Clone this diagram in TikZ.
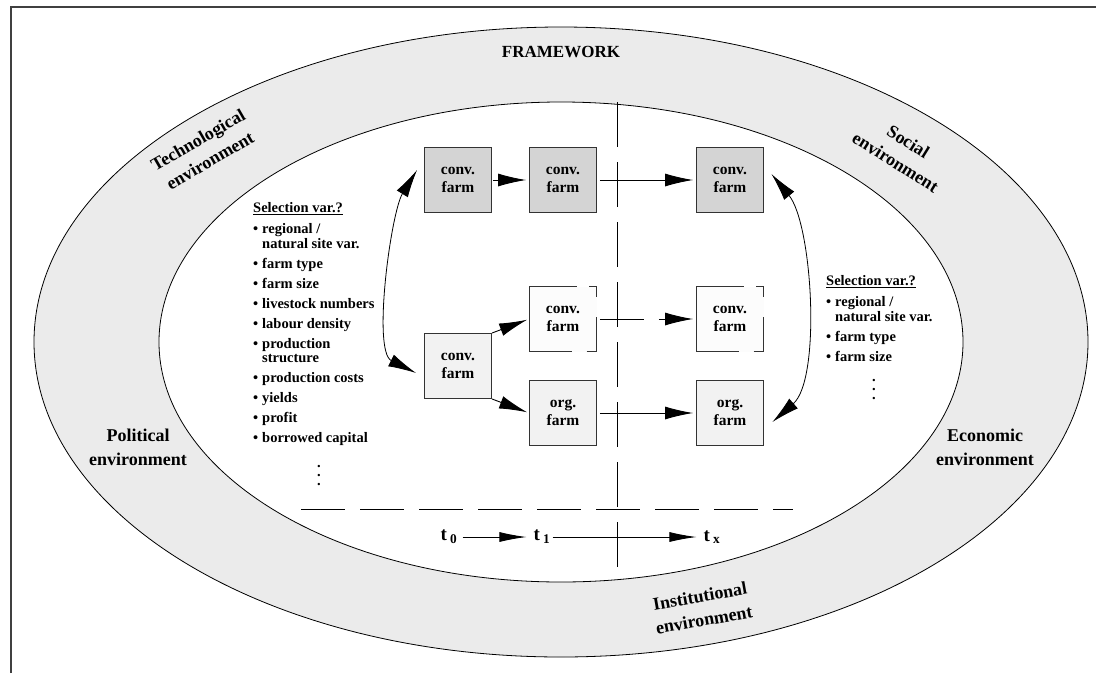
\documentclass[tikz,border=0pt]{standalone}
\usepackage{fontspec}
\setmainfont{Liberation Serif}
\usetikzlibrary{arrows.meta}

\newcommand{\varbullet}{\makebox[9pt][l]{\textbullet}}
\newcommand{\varindent}{\hspace*{9pt}}

\begin{document}
\begin{tikzpicture}[x=1pt,y=-1pt,>={Latex[length=28pt,width=13pt]},
  farmbox/.style={draw=black!80,line width=0.9pt,minimum width=67pt,minimum height=65pt,
    inner sep=0pt,align=center,font=\fontsize{15.5}{18}\selectfont\bfseries},
  convbox/.style={farmbox,fill=black!17},
  newbox/.style={farmbox,fill=black!5},
  dashbox/.style={farmbox,fill=black!1,
    dash pattern=on 42pt off 15pt on 45pt off 20pt on 18pt off 12pt on 113pt off 10pt},
  envlabel/.style={align=center,font=\fontsize{18}{24}\selectfont\bfseries},
  varlist/.style={align=left,inner sep=0pt,font=\fontsize{14.5}{14.5}\selectfont\bfseries},
  vardots/.style={align=center,inner sep=0pt,font=\fontsize{14.5}{9}\selectfont\bfseries},
  timelabel/.style={inner sep=1pt,font=\fontsize{19}{22}\selectfont\bfseries},
  timearrow/.style={-{Latex[length=27pt,width=10pt]},line width=0.9pt},
  longdash/.style={line width=0.9pt,dash pattern=on 44pt off 15pt}]

\useasboundingbox (0,0) rectangle (1096,673);

% frame
\draw[line width=1.2pt,black!75] (11,673) -- (11,7) -- (1096,7);

% environment rings
\filldraw[fill=black!8,line width=0.8pt] (561,342) ellipse [x radius=527pt,y radius=315pt];
\filldraw[fill=white,line width=0.8pt] (561,342) ellipse [x radius=402pt,y radius=240pt];

\node[envlabel,font=\fontsize{17}{20}\selectfont\bfseries] (framework) at (561,52) {FRAMEWORK};
\node[envlabel,rotate=30] (techenv) at (204,150) {Technological\\environment};
\node[envlabel,rotate=-32] (socenv) at (902,152) {Social\\environment};
\node[envlabel] (polenv) at (138,447) {Political\\environment};
\node[envlabel] (ecoenv) at (985,447) {Economic\\environment};
\node[envlabel,rotate=10] (instenv) at (702,608) {Institutional\\environment};

% time axes
\coordinate (vtop) at (617,102);
\coordinate (vbot) at (617,567);
\draw[longdash,dash pattern=on 45pt off 15pt] (vtop) -- (vbot);
\coordinate (hleft) at (301,509);
\coordinate (hright) at (793,509);
\draw[longdash] (hleft) -- (hright);

% farms
\node[convbox] (conva) at (458,180) {conv.\\farm};
\node[convbox] (convb) at (563,180) {conv.\\farm};
\node[convbox] (convc) at (730,180) {conv.\\farm};
\node[newbox] (convm) at (458,366) {conv.\\farm};
\node[dashbox] (dasha) at (563,319) {conv.\\farm};
\node[dashbox] (dashb) at (730,319) {conv.\\farm};
\node[newbox] (orga) at (563,413) {org.\\farm};
\node[newbox] (orgb) at (730,413) {org.\\farm};

\draw[->,line width=0.9pt,shorten <=1pt,shorten >=3pt] (conva) -- (convb);
\draw[->,line width=0.9pt,shorten <=3pt,shorten >=3pt] (convb) -- (convc);
\draw[->,longdash,shorten <=3pt,shorten >=3pt] (dasha) -- (dashb);
\draw[->,line width=0.9pt,shorten <=3pt,shorten >=3pt] (orga) -- (orgb);
\draw[->,line width=0.9pt,shorten >=2pt] (convm.north east) -- (dasha.west);
\draw[->,line width=0.9pt,shorten >=2pt] (convm.south east) -- (orga.west);

\draw[<->,line width=0.8pt] ([shift={(-7,-10)}]conva.west)
  .. controls +(-26,42) and +(-44,-22) .. ([shift={(-8,7)}]convm.west);
\draw[<->,line width=0.8pt] ([shift={(7.5,-6)}]convc.east)
  .. controls +(41,50) and +(49,-43) .. ([shift={(8.5,9)}]orgb.east);

% time steps
\node[timelabel] (tzero) at (449,537) {t\,\textsubscript{0}};
\node[timelabel] (tone) at (542,537) {t\,\textsubscript{1}};
\node[timelabel] (tx) at (712,537) {t\,\textsubscript{x}};
\draw[timearrow,shorten <=4pt,shorten >=6pt] (tzero) -- (tone);
\draw[timearrow,shorten <=1pt,shorten >=6pt] (tone) -- (tx);

% selection variables
\node[varlist,anchor=north west] (leftvars) at (253,202) {\underline{Selection var.?}\\[7pt]
\varbullet regional /\\
\varindent natural site var.\\[5.5pt]
\varbullet farm type\\[5.5pt]
\varbullet farm size\\[5.5pt]
\varbullet livestock numbers\\[5.5pt]
\varbullet labour density\\[5.5pt]
\varbullet production\\
\varindent structure\\[5.5pt]
\varbullet production costs\\[5.5pt]
\varbullet yields\\[5.5pt]
\varbullet profit\\[5.5pt]
\varbullet borrowed capital};
\node[vardots] (leftdots) at (319,476) {.\\.\\.};

\node[varlist,anchor=north west] (rightvars) at (826,275) {\underline{Selection var.?}\\[7pt]
\varbullet regional /\\
\varindent natural site var.\\[5.5pt]
\varbullet farm type\\[5.5pt]
\varbullet farm size};
\node[vardots] (rightdots) at (874,390) {.\\.\\.};
\end{tikzpicture}
\end{document}
